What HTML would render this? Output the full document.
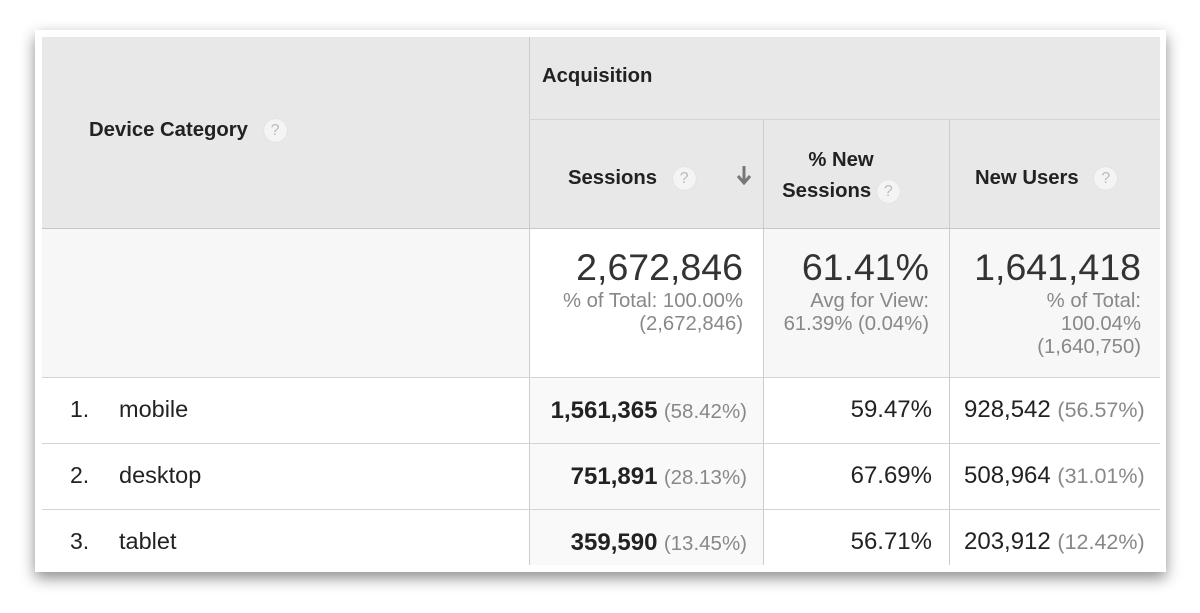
<!DOCTYPE html>
<html><head><style>
body{margin:0;width:1200px;height:613px;background:#fff;position:relative;overflow:hidden;font-family:"Liberation Sans",Arial,sans-serif;color:#222}
.card{position:absolute;left:35px;top:30px;width:1131px;height:542px;background:#fff;box-shadow:0 6px 14px rgba(0,0,0,.45)}
.a{position:absolute;box-sizing:border-box}
.hd{background:#e8e8e8}
.q{display:inline-block;width:23px;height:23px;border-radius:50%;background:#f4f4f4;color:#bbb;font-size:16px;text-align:center;line-height:23px;font-weight:normal;vertical-align:middle;box-shadow:0 0 1px #ccc}
.vl{position:absolute;width:1px;background:#ccc}
.hl{position:absolute;height:1px;background:#d4d4d4}
.b{font-weight:bold;font-size:20.3px}
.t{position:absolute;white-space:nowrap}
.g{color:#888}
</style></head><body>
<div class="card"></div>
<div class="a hd" style="left:42px;top:37px;width:1118px;height:191px"></div>
<div class="a" style="left:42px;top:228px;width:487px;height:149px;background:#f7f7f7"></div>
<div class="a" style="left:763px;top:228px;width:397px;height:149px;background:#f7f7f7"></div>
<div class="a" style="left:529px;top:377px;width:234px;height:188px;background:#f9f9f9"></div>
<div class="vl" style="left:529px;top:37px;height:528px"></div>
<div class="vl" style="left:763px;top:119px;height:446px"></div>
<div class="vl" style="left:949px;top:119px;height:446px"></div>
<div class="hl" style="left:529px;top:119px;width:631px"></div>
<div class="hl" style="left:42px;top:228px;width:1118px;background:#c8c8c8"></div>
<div class="hl" style="left:42px;top:377px;width:1118px"></div>
<div class="hl" style="left:42px;top:443px;width:1118px"></div>
<div class="hl" style="left:42px;top:509px;width:1118px"></div>

<div class="t b" style="left:89px;top:119px">Device Category <span class="q" style="margin-left:10px">?</span></div>
<div class="t b" style="left:542px;top:65px">Acquisition</div>
<div class="t b" style="left:568px;top:167px">Sessions <span class="q" style="margin-left:10px">?</span></div>
<svg class="t" style="left:736px;top:164px" width="16" height="22"><path d="M8 2V18M2 12L8 19L14 12" stroke="#777" stroke-width="3" fill="none"/></svg>
<div class="t b" style="left:766px;top:145px;width:150px;text-align:center;line-height:31px">% New<br>Sessions <span class="q">?</span></div>
<div class="t b" style="left:975px;top:167px">New Users <span class="q" style="margin-left:10px">?</span></div>

<div class="t" style="right:457px;top:246px;font-size:37.5px;color:#333;text-align:right">2,672,846</div>
<div class="t g" style="right:457px;top:290px;font-size:20.3px;text-align:right;line-height:23px">% of Total: 100.00%<br>(2,672,846)</div>
<div class="t" style="right:271px;top:246px;font-size:37.5px;color:#333">61.41%</div>
<div class="t g" style="right:271px;top:290px;font-size:20.3px;text-align:right;line-height:23px">Avg for View:<br>61.39% (0.04%)</div>
<div class="t" style="right:59px;top:246px;font-size:37.5px;color:#333">1,641,418</div>
<div class="t g" style="right:59px;top:290px;font-size:20.3px;text-align:right;line-height:23px">% of Total:<br>100.04%<br>(1,640,750)</div>

<div class="t" style="left:70px;top:396px;font-size:23px">1.</div><div class="t" style="left:119px;top:396px;font-size:23.5px">mobile</div>
<div class="t" style="left:70px;top:462px;font-size:23px">2.</div><div class="t" style="left:119px;top:462px;font-size:23.5px">desktop</div>
<div class="t" style="left:70px;top:528px;font-size:23px">3.</div><div class="t" style="left:119px;top:528px;font-size:23.5px">tablet</div>

<div class="t" style="right:453px;top:397px;font-size:23px"><b style="font-size:24px">1,561,365</b> <span class="g" style="font-size:20.5px">(58.42%)</span></div>
<div class="t" style="right:453px;top:463px;font-size:23px"><b style="font-size:24px">751,891</b> <span class="g" style="font-size:20.5px">(28.13%)</span></div>
<div class="t" style="right:453px;top:529px;font-size:23px"><b style="font-size:24px">359,590</b> <span class="g" style="font-size:20.5px">(13.45%)</span></div>

<div class="t" style="right:268px;top:396px;font-size:24px">59.47%</div>
<div class="t" style="right:268px;top:462px;font-size:24px">67.69%</div>
<div class="t" style="right:268px;top:528px;font-size:24px">56.71%</div>

<div class="t" style="left:964px;top:396px;font-size:24px">928,542 <span class="g" style="font-size:21.5px">(56.57%)</span></div>
<div class="t" style="left:964px;top:462px;font-size:24px">508,964 <span class="g" style="font-size:21.5px">(31.01%)</span></div>
<div class="t" style="left:964px;top:528px;font-size:24px">203,912 <span class="g" style="font-size:21.5px">(12.42%)</span></div>
</body></html>
